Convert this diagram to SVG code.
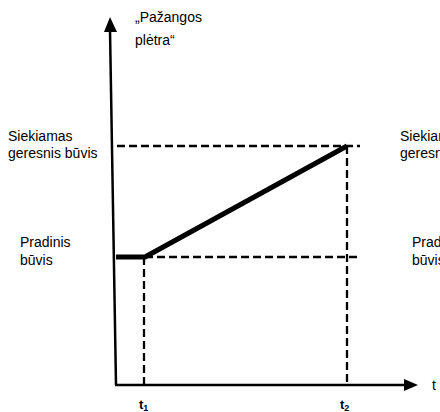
<svg xmlns="http://www.w3.org/2000/svg" width="440" height="412" viewBox="0 0 440 412">
<defs>
<style>
text{font-family:"Liberation Sans",Arial,sans-serif;font-size:14px;fill:#000}
.ax{stroke:#000;stroke-width:2.5;fill:none}
.dash{stroke:#000;stroke-width:2.3;stroke-dasharray:8 4;fill:none}
.tl{font-weight:bold;font-size:13px}
</style>
</defs>
<rect width="440" height="412" fill="#fff"/>
<g id="connectors">
<line class="ax" x1="110" y1="30" x2="116" y2="385"/>
<polygon points="110,17 104,32 117,32" fill="#000"/>
<line class="ax" x1="115" y1="385" x2="406" y2="385"/>
<polygon points="418,385 404,379 404,391" fill="#000"/>
<line class="dash" x1="117" y1="146" x2="360" y2="146"/>
<line class="dash" x1="145" y1="257" x2="360" y2="257"/>
<line class="dash" x1="144" y1="257" x2="144" y2="385"/>
<line class="dash" x1="347" y1="146" x2="347" y2="385"/>
<polyline points="116,257 145,257 347,146" stroke="#000" stroke-width="5" fill="none" stroke-linejoin="round"/>
</g>
<g id="label-y">
<text x="135" y="22">„Pažangos</text>
<text x="135" y="45">plėtra“</text>
</g>
<g id="label-siekiamas">
<text x="8" y="141">Siekiamas</text>
<text x="8" y="158">geresnis būvis</text>
</g>
<g id="label-pradinis">
<text x="20" y="247">Pradinis</text>
<text x="20" y="265">būvis</text>
</g>
<g id="label-siekiamas-r">
<text x="400" y="141">Siekiamas</text>
<text x="400" y="158">geresnis būvis</text>
</g>
<g id="label-pradinis-r">
<text x="412" y="247">Pradinis</text>
<text x="412" y="265">būvis</text>
</g>
<g id="label-t">
<text x="432" y="390">t</text>
</g>
<g id="label-t1">
<text class="tl" x="139" y="409">t<tspan font-size="9" dy="2">1</tspan></text>
</g>
<g id="label-t2">
<text class="tl" x="340" y="409">t<tspan font-size="9" dy="2">2</tspan></text>
</g>
</svg>
